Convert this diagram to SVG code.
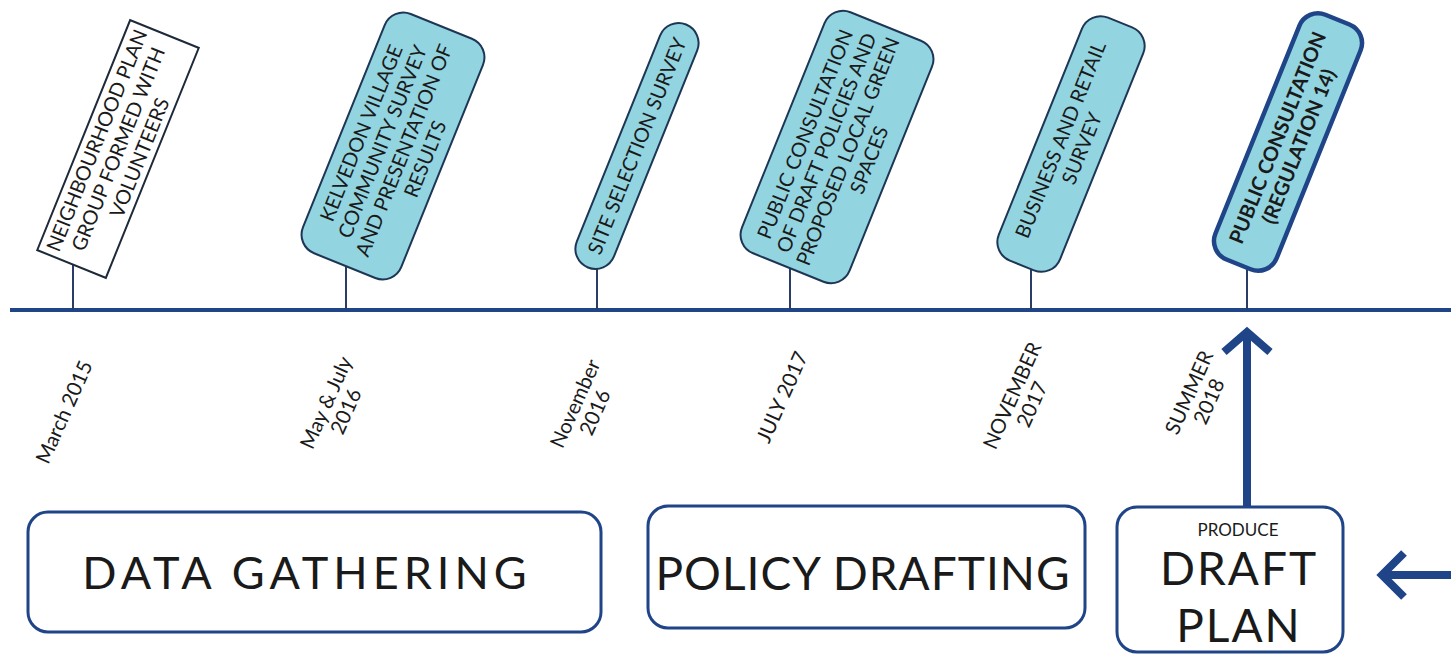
<svg xmlns="http://www.w3.org/2000/svg" width="1451" height="655" viewBox="0 0 1451 655">
  <style>
    .event { fill: #92d4e0; stroke: #1e3656; stroke-width: 2; }
    .event-plain { fill: #ffffff; stroke: #1e2a3a; stroke-width: 2; }
    .event-key { fill: #92d4e0; stroke: #1f4588; stroke-width: 4.5; }
    .etext { font-family: Lato, "Liberation Sans", sans-serif; font-size: 20px; fill: #1a1a1a; text-anchor: middle; }
    .ebold { font-weight: bold; }
    .date { font-family: Lato, "Liberation Sans", sans-serif; font-size: 20.5px; fill: #1a1a1a; text-anchor: middle; }
    .stage { fill: #ffffff; stroke: #1f4588; stroke-width: 3; }
    .stext { font-family: Lato, "Liberation Sans", sans-serif; fill: #1a1a1a; text-anchor: middle; }
    .axis { stroke: #1f4588; stroke-width: 4; }
    .stem { stroke: #2a3d66; stroke-width: 2; }
    .bigarrow { stroke: #1f4588; stroke-width: 8; fill: none; stroke-linejoin: miter; }
  </style>
  <rect width="1451" height="655" fill="#ffffff"/>

  <!-- timeline axis, stems and process arrows -->
  <g id="connectors">
    <line class="axis" x1="10" y1="310" x2="1451" y2="310"/>
    <line class="stem" x1="73" y1="250" x2="73" y2="310"/>
    <line class="stem" x1="346" y1="250" x2="346" y2="310"/>
    <line class="stem" x1="597" y1="250" x2="597" y2="310"/>
    <line class="stem" x1="790" y1="250" x2="790" y2="310"/>
    <line class="stem" x1="1031" y1="250" x2="1031" y2="310"/>
    <line class="stem" x1="1247" y1="250" x2="1247" y2="310"/>
    <!-- draft plan up to public consultation -->
    <line class="bigarrow" x1="1247" y1="507" x2="1247" y2="336"/>
    <polyline class="bigarrow" points="1224,352 1247,332 1270,352"/>
    <!-- incoming arrow from the right -->
    <line class="bigarrow" x1="1451" y1="575" x2="1384" y2="575"/>
    <polyline class="bigarrow" points="1404,553 1382,575 1404,597"/>
  </g>

  <!-- timeline events -->
  <g id="event-neighbourhood-plan" transform="translate(118,149) rotate(-68)">
    <rect class="event-plain" x="-124" y="-37" width="248" height="74"/>
    <text class="etext" y="-15.8">NEIGHBOURHOOD PLAN</text>
    <text class="etext" y="7.2">GROUP FORMED WITH</text>
    <text class="etext" y="30.2">VOLUNTEERS</text>
  </g>

  <g id="event-village-survey" transform="translate(393,146) rotate(-68)">
    <rect class="event" x="-129" y="-53" width="258" height="106" rx="20"/>
    <text class="etext" y="-27.3">KELVEDON VILLAGE</text>
    <text class="etext" y="-4.3">COMMUNITY SURVEY</text>
    <text class="etext" y="18.7">AND PRESENTATION OF</text>
    <text class="etext" y="41.7">RESULTS</text>
  </g>

  <g id="event-site-selection" transform="translate(637,146) rotate(-68)">
    <rect class="event" x="-131" y="-20" width="262" height="40" rx="20"/>
    <text class="etext" y="7.2">SITE SELECTION SURVEY</text>
  </g>

  <g id="event-draft-policies" transform="translate(837,147) rotate(-68)">
    <rect class="event" x="-130" y="-58" width="260" height="116" rx="20"/>
    <text class="etext" y="-27.3">PUBLIC CONSULTATION</text>
    <text class="etext" y="-4.3">OF DRAFT POLICIES AND</text>
    <text class="etext" y="18.7">PROPOSED LOCAL GREEN</text>
    <text class="etext" y="41.7">SPACES</text>
  </g>

  <g id="event-business-survey" transform="translate(1071,144) rotate(-68)">
    <rect class="event" x="-131" y="-33" width="262" height="66" rx="20"/>
    <text class="etext" y="-4.3">BUSINESS AND RETAIL</text>
    <text class="etext" y="18.7">SURVEY</text>
  </g>

  <g id="event-regulation-14" transform="translate(1288,142) rotate(-68)">
    <rect class="event-key" x="-132" y="-33" width="264" height="66" rx="20"/>
    <text class="etext ebold" y="-4.3">PUBLIC CONSULTATION</text>
    <text class="etext ebold" y="18.7">(REGULATION 14)</text>
  </g>

  <!-- dates below the axis -->
  <g id="dates">
    <g transform="translate(64,412) rotate(-66)">
      <text class="date" y="7.3">March 2015</text>
    </g>
    <g transform="translate(336,407) rotate(-66)">
      <text class="date" y="-3.7">May &amp; July</text>
      <text class="date" y="18">2016</text>
    </g>
    <g transform="translate(585,408) rotate(-66)">
      <text class="date" y="-3.7">November</text>
      <text class="date" y="18">2016</text>
    </g>
    <g transform="translate(782,397) rotate(-66)">
      <text class="date" y="7.3">JULY 2017</text>
    </g>
    <g transform="translate(1022,400) rotate(-66)">
      <text class="date" y="-3.7">NOVEMBER</text>
      <text class="date" y="18">2017</text>
    </g>
    <g transform="translate(1199,397) rotate(-66)">
      <text class="date" y="-3.7">SUMMER</text>
      <text class="date" y="18">2018</text>
    </g>
  </g>

  <!-- process stages -->
  <g id="stage-data-gathering">
    <rect class="stage" x="28" y="512" width="573" height="120" rx="20"/>
    <text class="stext" x="307" y="589" font-size="45" letter-spacing="5">DATA GATHERING</text>
  </g>

  <g id="stage-policy-drafting">
    <rect class="stage" x="648" y="506" width="437" height="122" rx="20"/>
    <text class="stext" x="863" y="590" font-size="46" letter-spacing="1">POLICY DRAFTING</text>
  </g>

  <g id="stage-draft-plan">
    <rect class="stage" x="1117" y="507" width="226" height="145" rx="20"/>
    <text class="stext" x="1238" y="536" font-size="17">PRODUCE</text>
    <text class="stext" x="1239" y="585" font-size="46" letter-spacing="2">DRAFT</text>
    <text class="stext" x="1239" y="642" font-size="46" letter-spacing="2">PLAN</text>
  </g>
</svg>
